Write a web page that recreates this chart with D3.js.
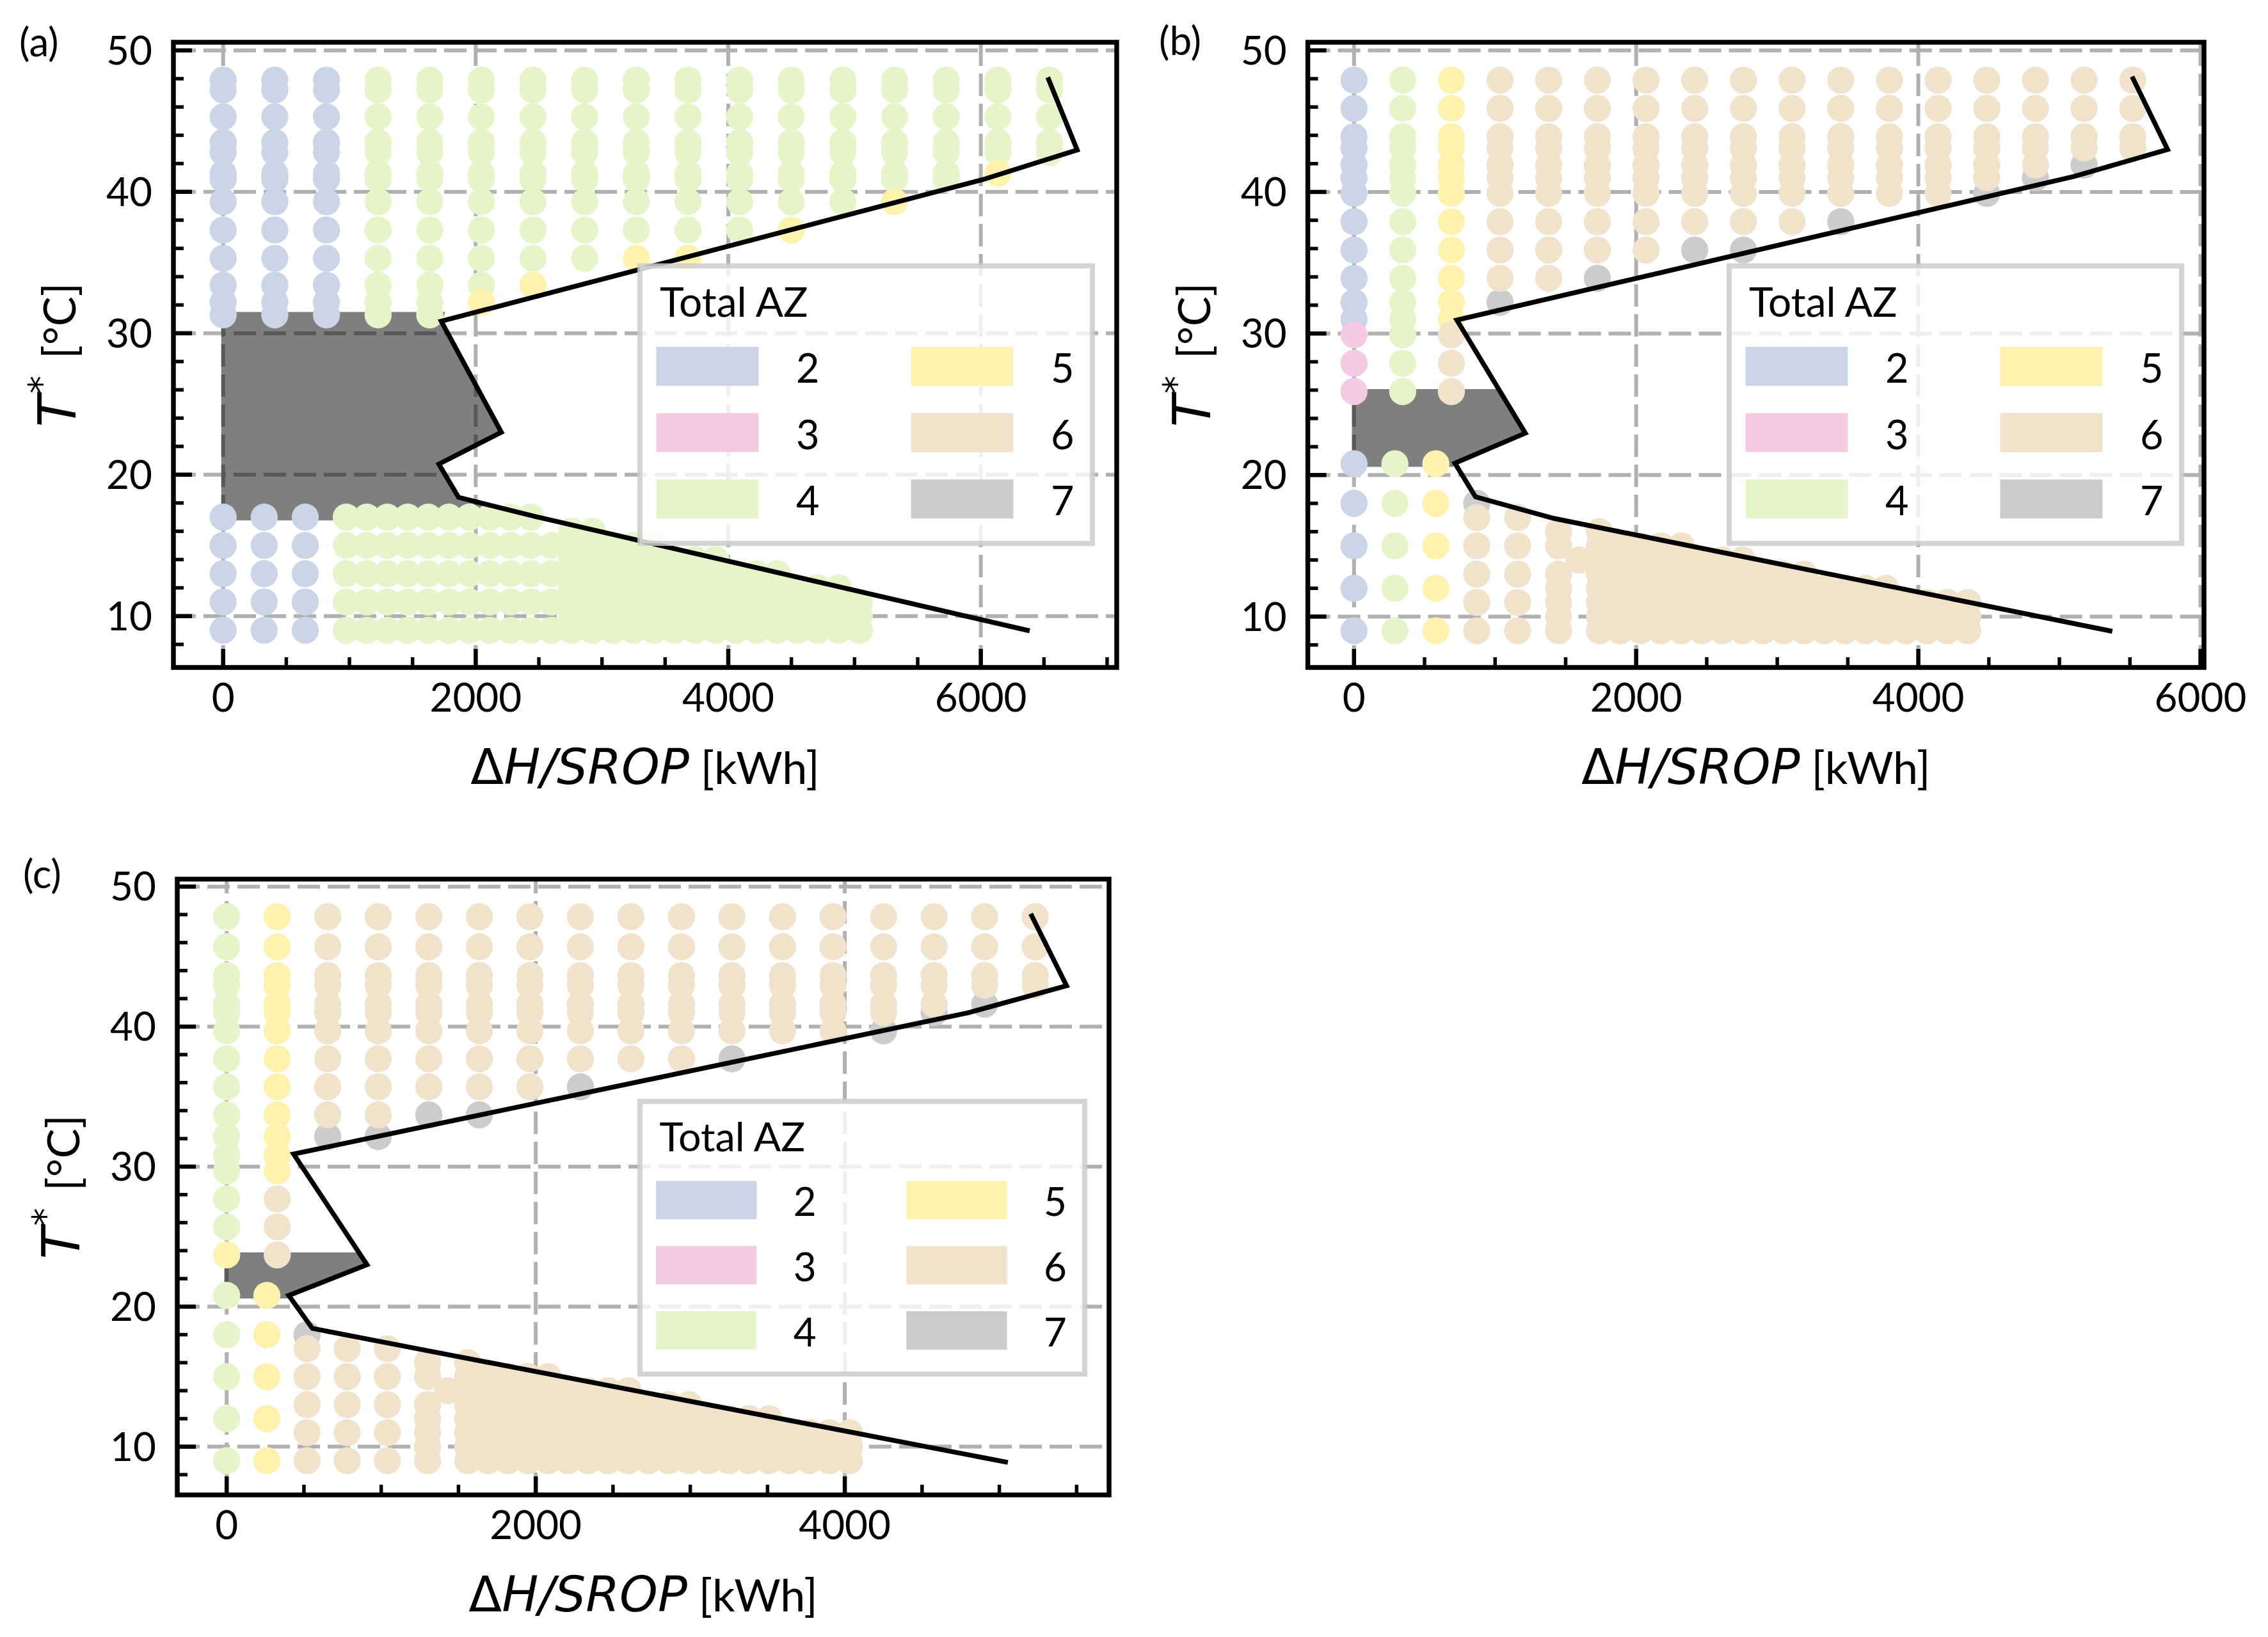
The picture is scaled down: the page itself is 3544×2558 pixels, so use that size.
<!DOCTYPE html>
<html><head><meta charset="utf-8">
<script src="https://cdn.jsdelivr.net/npm/d3@7"></script>
<style>html,body{margin:0;padding:0;background:#fff;} svg{display:block;}</style>
</head><body>
<svg id="chart" width="3544" height="2558"></svg>
<script>
// ================= DATA =================
const azLevels = [2, 3, 4, 5, 6, 7];
const azColors = ["#cbd5e8", "#f4cae4", "#e6f5c9", "#fff2ae", "#f1e2cc", "#cccccc"];
const legendTitle = "Total AZ";
const panelNames = ["(a)", "(b)", "(c)"];
const xTicksAB = [0, 2000, 4000, 6000];
const xTicksC = [0, 2000, 4000];
const yTicks = [10, 20, 30, 40, 50];

// ---- panel (a) ----
const aUpperT = [47.9, 47.2, 45.3, 43.5, 42.8, 41.3, 40.9, 39.3, 37.3, 35.3, 33.4, 32.2, 31.3];
const aUpperX = [0, 409, 818, 1227, 1636, 2045, 2454, 2863, 3272, 3681, 4090, 4499, 4908, 5317, 5726, 6135, 6544];
const aUpperCodes = [
  "2222222222222", "2222222222222", "2222222222222",
  "4444444444444", "4444444444444", "444444444445.",
  "44444444445..", "4444444444...", "4444444445...",
  "4444444445...", "444444444....", "444444445....",
  "44444444.....", "44444445.....", "4444444......",
  "444445.......", "44444........"
];
const aLowerT = [17, 16, 15, 14, 13, 12, 11, 10, 9];
const aLowerX = [0, 162, 325, 488, 650, 812, 975, 1138, 1300, 1462, 1625, 1788, 1950, 2112, 2275, 2438,
  2600, 2762, 2925, 3088, 3250, 3412, 3575, 3738, 3900, 4062, 4225, 4388, 4550, 4712, 4875, 5038];
const aLowerCodes = [
  "2.2.2.4444444444",
  ".................44",
  "2.2.2.4444444444444444",
  ".................44444444",
  "2.2.2.4444444444444444444444",
  ".................44444444444444",
  "2.2.2.44444444444444444444444444",
  ".................444444444444444",
  "2.2.2.44444444444444444444444444"
];
const aLineX = [6530, 6763, 6010, 1727, 2203, 1708, 1864, 2467, 6387];
const aLineT = [48.1, 42.96, 40.85, 30.85, 23.0, 20.75, 18.4, 17.05, 8.96];
const aPolyX = [-15, 1760, 1727, 2203, 1708, 1864, 2467, 2550, -15];
const aPolyT = [31.5, 31.5, 30.85, 23.0, 20.75, 18.4, 17.05, 16.77, 16.77];

// ---- panel (b) ----
const bUpperT = [47.9, 45.9, 43.9, 43.1, 41.9, 41.0, 39.9, 37.9, 35.9, 33.9, 32.2, 31.0, 29.9, 27.9, 25.9];
const bUpperX = [0, 345, 690, 1035, 1380, 1725, 2070, 2415, 2760, 3105, 3450, 3795, 4140, 4485, 4830, 5175, 5520];
const bUpperCodes = [
  "222222222222333", "444444444444444", "555555555555666",
  "66666666667", "6666666666", "6666666667",
  "666666666", "666666667", "666666667",
  "66666666", "66666667", "6666666",
  "6666666", "6666667", "666667",
  "66667", "6666"
];
const bLowerT = [20.8, 18, 17, 16, 15, 14, 13, 12, 11, 10, 9];
const bLowerX = [0, 145, 290, 435, 580, 725, 870, 1015, 1160, 1305, 1450, 1595, 1740, 1885, 2030, 2175,
  2320, 2465, 2610, 2755, 2900, 3045, 3190, 3335, 3480, 3625, 3770, 3915, 4060, 4205, 4350];
const bLowerCodes = [
  "2.4.5",
  "2.4.5.7",
  "......6.6",
  "..........6.6",
  "2.4.5.6.6.6.66666",
  "...........666666666",
  "......6.6.6.66666666666",
  "2.4.5.....6.666666666666666",
  "......6.6.6.6666666666666666666",
  "..........6.6666666666666666666",
  "2.4.5.6.6.6.6666666666666666666"
];
const bLineX = [5515, 5767, 5105, 729, 1214, 715, 861, 1416, 5375];
const bLineT = [48.15, 43.0, 41.1, 30.95, 22.96, 20.84, 18.46, 16.94, 8.96];
const bPolyX = [-15, 1011, 1214, 715, 705, -15];
const bPolyT = [26.07, 26.07, 22.96, 20.84, 20.58, 20.58];

// ---- panel (c) ----
const cUpperT = [47.85, 45.7, 43.65, 42.95, 41.6, 41.0, 39.7, 37.7, 35.7, 33.7, 32.15, 30.8, 29.7, 27.7, 25.7, 23.7];
const cUpperX = [0, 327, 654, 981, 1308, 1635, 1962, 2289, 2616, 2943, 3270, 3597, 3924, 4251, 4578, 4905, 5232];
const cUpperCodes = [
  "4444444444444445", "5555555555555666",
  "66666666667", "66666666667", "6666666667",
  "6666666667", "666666666", "666666667",
  "66666666", "66666666", "66666667",
  "6666666", "6666666", "6666667",
  "666667", "66667", "6666"
];
const cLowerT = [20.8, 18, 17, 16, 15, 14, 13, 12, 11, 10, 9];
const cLowerX = [0, 130, 260, 390, 520, 650, 780, 910, 1040, 1170, 1300, 1430, 1560, 1690, 1820, 1950,
  2080, 2210, 2340, 2470, 2600, 2730, 2860, 2990, 3120, 3250, 3380, 3510, 3640, 3770, 3900, 4030];
const cLowerCodes = [
  "4.5",
  "4.5.7",
  "....6.6.6",
  "..........6.6",
  "4.5.6.6.6.6.66666",
  "...........6666666666",
  "....6.6.6.6.666666666666",
  "4.5.......6.6666666666666666",
  "....6.6.6.6.66666666666666666666",
  "..........6.66666666666666666666",
  "4.5.6.6.6.6.66666666666666666666"
];
const cLineX = [5203, 5435, 4802, 433, 908, 402, 554, 1161, 5055];
const cLineT = [48.06, 42.92, 41.0, 30.9, 23.0, 20.8, 18.45, 17.15, 8.88];
const cPolyX = [-15, 854, 908, 402, 395, -15];
const cPolyT = [23.88, 23.88, 23.0, 20.8, 20.58, 20.58];

// ================= LAYOUT =================
const panels = [
  { name: panelNames[0], nameX: 30, nameY: 88,
    frame: { l: 271, r: 1745, t: 66, b: 1043 },
    xDom: [0, 4000], xRng: [348.7, 1138], yDom: [10, 50], yRng: [962.75, 78.75],
    xTicks: xTicksAB,
    upper: [aUpperX, aUpperT, aUpperCodes], lower: [aLowerX, aLowerT, aLowerCodes],
    line: [aLineX, aLineT], poly: [aPolyX, aPolyT],
    legend: { l: 1000, t: 415.5, s: 1 } },
  { name: panelNames[1], nameX: 1811, nameY: 86,
    frame: { l: 2043.6, r: 3444, t: 66, b: 1043 },
    xDom: [0, 4000], xRng: [2115.8, 2997.6], yDom: [10, 50], yRng: [963.5, 78.75],
    xTicks: xTicksAB,
    upper: [bUpperX, bUpperT, bUpperCodes], lower: [bLowerX, bLowerT, bLowerCodes],
    line: [bLineX, bLineT], poly: [bPolyX, bPolyT],
    legend: { l: 2702, t: 415.5, s: 1 } },
  { name: panelNames[2], nameX: 36, nameY: 1388,
    frame: { l: 277, r: 1733, t: 1373.7, b: 2336 },
    xDom: [0, 4000], xRng: [354.2, 1320.1], yDom: [10, 50], yRng: [2260.6, 1385.4],
    xTicks: xTicksC,
    upper: [cUpperX, cUpperT, cUpperCodes], lower: [cLowerX, cLowerT, cLowerCodes],
    line: [cLineX, cLineT], poly: [cPolyX, cPolyT],
    legend: { l: 1000, t: 1721, s: 0.983 } }
];

const LATO = "Lato, 'Open Sans', sans-serif";
const DJV = "'DejaVu Sans', sans-serif";
const color = d3.scaleOrdinal().domain(azLevels).range(azColors);

const svg = d3.select("#chart");
svg.append("rect").attr("width", 3544).attr("height", 2558).attr("fill", "#fff");
const defs = svg.append("defs");

function buildDots(xs, ts, codes, byColumn) {
  const out = [];
  codes.forEach((s, a) => {
    for (let b = 0; b < s.length; b++) {
      const c = s[b];
      if (c === ".") continue;
      if (byColumn) { if (b < ts.length) out.push({ x: xs[a], t: ts[b], az: +c }); }
      else { if (b < xs.length) out.push({ x: xs[b], t: ts[a], az: +c }); }
    }
  });
  return out;
}

panels.forEach((p, pi) => {
  const f = p.frame;
  const x = d3.scaleLinear().domain(p.xDom).range(p.xRng);
  const y = d3.scaleLinear().domain(p.yDom).range(p.yRng);
  const g = svg.append("g");
  const clipId = "clip" + pi;
  defs.append("clipPath").attr("id", clipId).append("rect")
    .attr("x", f.l).attr("y", f.t).attr("width", f.r - f.l).attr("height", f.b - f.t);
  const inner = g.append("g").attr("clip-path", `url(#${clipId})`);

  const xMin = x.invert(f.l), xMax = x.invert(f.r);
  const yMin = y.invert(f.b), yMax = y.invert(f.t);

  // grid
  const gridStyle = sel => sel.attr("stroke", "#b0b0b0").attr("stroke-width", 6).attr("stroke-dasharray", "35,12").attr("fill", "none");
  p.xTicks.filter(v => v >= xMin && v <= xMax).forEach(v => {
    inner.append("line").attr("x1", x(v)).attr("x2", x(v)).attr("y1", f.b).attr("y2", f.t).call(gridStyle);
  });
  yTicks.filter(v => v >= yMin && v <= yMax).forEach(v => {
    inner.append("line").attr("x1", f.l).attr("x2", f.r).attr("y1", y(v)).attr("y2", y(v)).call(gridStyle);
  });

  // shaded polygon
  const polyPts = d3.zip(p.poly[0], p.poly[1]);
  inner.append("path")
    .attr("d", d3.line().x(d => x(d[0])).y(d => y(d[1]))(polyPts) + "Z")
    .attr("fill", "#000").attr("fill-opacity", 0.5).attr("stroke", "none");

  // dots
  let dots = buildDots(p.upper[0], p.upper[1], p.upper[2], true)
    .concat(buildDots(p.lower[0], p.lower[1], p.lower[2], false));
  dots = dots.filter(d => d.az === 7).concat(dots.filter(d => d.az !== 7));
  inner.append("g").selectAll("circle").data(dots).join("circle")
    .attr("cx", d => x(d.x)).attr("cy", d => y(d.t)).attr("r", 21.2)
    .attr("fill", d => color(d.az));

  // line
  inner.append("path")
    .attr("d", d3.line().x(d => x(d[0])).y(d => y(d[1]))(d3.zip(p.line[0], p.line[1])))
    .attr("fill", "none").attr("stroke", "#000").attr("stroke-width", 7.5).attr("stroke-linejoin", "miter");

  // ticks
  const tg = g.append("g").attr("stroke", "#000");
  for (let v = Math.ceil(xMin / 500) * 500; v <= xMax; v += 500) {
    const major = p.xTicks.includes(v);
    tg.append("line").attr("x1", x(v)).attr("x2", x(v)).attr("y1", f.b).attr("y2", f.b - (major ? 29 : 16))
      .attr("stroke-width", major ? 6.5 : 5.5);
  }
  for (let v = Math.ceil(yMin / 2) * 2; v <= yMax; v += 2) {
    const major = yTicks.includes(v);
    tg.append("line").attr("y1", y(v)).attr("y2", y(v)).attr("x1", f.l).attr("x2", f.l + (major ? 29 : 16))
      .attr("stroke-width", major ? 6.5 : 5.5);
  }
  // spines
  g.append("rect").attr("x", f.l).attr("y", f.t).attr("width", f.r - f.l).attr("height", f.b - f.t)
    .attr("fill", "none").attr("stroke", "#000").attr("stroke-width", 7.5);

  // tick labels
  p.xTicks.filter(v => v >= xMin && v <= xMax).forEach(v => {
    g.append("text").attr("x", x(v)).attr("y", f.b + 69).attr("text-anchor", "middle")
      .attr("font-family", LATO).attr("font-size", 62).text(v);
  });
  yTicks.forEach(v => {
    g.append("text").attr("x", f.l - 33).attr("y", y(v) + 22).attr("text-anchor", "end")
      .attr("font-family", LATO).attr("font-size", 62).text(v);
  });

  // x label
  const xl = g.append("text").attr("x", (f.l + f.r) / 2).attr("y", f.b + 182).attr("text-anchor", "middle");
  xl.append("tspan").attr("font-family", DJV).attr("font-size", 76).text("\u0394");
  xl.append("tspan").attr("font-family", DJV).attr("font-style", "oblique").attr("font-size", 76).text("H/SROP");
  xl.append("tspan").attr("font-family", LATO).attr("font-size", 70).text(" [kWh]");

  // y label
  const yl = g.append("text").attr("transform", `translate(${f.l - 153},${(f.t + f.b) / 2}) rotate(-90)`)
    .attr("text-anchor", "middle");
  yl.append("tspan").attr("font-family", DJV).attr("font-style", "oblique").attr("font-size", 82).text("T");
  yl.append("tspan").attr("font-family", DJV).attr("font-size", 56).attr("dx", 2).attr("dy", -34).text("*");
  yl.append("tspan").attr("font-family", LATO).attr("font-size", 70).attr("dy", 34).text("\u2009 [°C]");

  // panel name
  g.append("text").attr("x", p.nameX).attr("y", p.nameY).attr("font-family", LATO).attr("font-size", 62).text(p.name);

  // legend
  const L = p.legend, s = L.s;
  const lg = g.append("g");
  lg.append("rect").attr("x", L.l).attr("y", L.t).attr("width", 707 * s).attr("height", 433.5 * s)
    .attr("fill", "#fff").attr("fill-opacity", 0.8).attr("stroke", "#cccccc").attr("stroke-opacity", 0.85).attr("stroke-width", 8);
  lg.append("text").attr("x", L.l + 31 * s).attr("y", L.t + 79 * s).attr("font-family", LATO).attr("font-size", 64 * s).text(legendTitle);
  const rowsY = [126.5, 230, 333.7];
  azLevels.forEach((az, j) => {
    const col = Math.floor(j / 3), row = j % 3;
    const px = L.l + (col ? 423.5 : 25.5) * s, py = L.t + rowsY[row] * s;
    lg.append("rect").attr("x", px).attr("y", py).attr("width", 160 * s).attr("height", 61 * s).attr("fill", azColors[j]);
    lg.append("text").attr("x", L.l + (col ? 642 : 244) * s).attr("y", py + 56 * s)
      .attr("font-family", LATO).attr("font-size", 63 * s).text(az);
  });
});
</script>
</body></html>
